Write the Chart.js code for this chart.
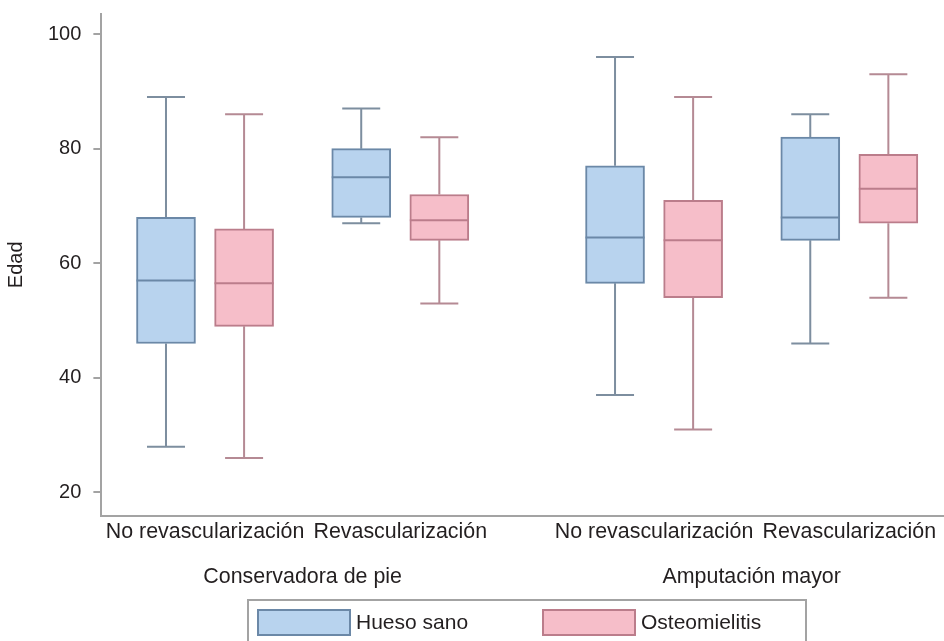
<!DOCTYPE html>
<html>
<head>
<meta charset="utf-8">
<script src="https://cdn.jsdelivr.net/npm/chart.js@4/dist/chart.umd.min.js"></script>
<style>
  html, body { margin: 0; padding: 0; background: #fff; }
  #wrap { width: 944px; height: 641px; }
</style>
</head>
<body>
<div id="wrap"><canvas id="boxChart" width="944" height="641"></canvas></div>
<script>
// categories and groups
var categories = ["No revascularización", "Revascularización", "No revascularización", "Revascularización"];
var groups = ["Conservadora de pie", "Amputación mayor"];
var seriesNames = ["Hueso sano", "Osteomielitis"];
var yTicks = [20, 40, 60, 80, 100];

// Hueso sano (min, q1, median, q3, max)
var sanoMin = [28, 67, 37, 46];
var sanoQ1 = [46, 68, 56.5, 64];
var sanoMedian = [57, 75, 64.5, 68];
var sanoQ3 = [68, 80, 77, 82];
var sanoMax = [89, 87, 96, 86];

// Osteomielitis
var osteoMin = [26, 53, 31, 54];
var osteoQ1 = [49, 64, 54, 67];
var osteoMedian = [56.5, 67.5, 64, 73];
var osteoQ3 = [66, 72, 71, 79];
var osteoMax = [86, 82, 89, 93];

var font = "'Liberation Sans', Arial, sans-serif";
var axisGray = "#a3a3a3";
var textColor = "#231f20";

// slot on the x axis for each category (a wider gap between the two groups)
function slot(i) {
    return 1 + i + (i >= 2 ? 0.3 : 0);
}
var offset = 0.2;
var xMin = 0.469, xMax = 4.785;

var boxes = [
    { min: sanoMin, q1: sanoQ1, med: sanoMedian, q3: sanoQ3, max: sanoMax, dx: -offset,
      fill: "#b8d3ee", line: "#6b88a7", whisker: "#7d8e9f" },
    { min: osteoMin, q1: osteoQ1, med: osteoMedian, q3: osteoQ3, max: osteoMax, dx: offset,
      fill: "#f6bec9", line: "#bb7d8b", whisker: "#b58a94" }
];

var datasets = boxes.map(function (b, d) {
    return {
        label: seriesNames[d],
        data: categories.map(function (c, i) {
            return { x: slot(i) + b.dx, y: [b.q1[i], b.q3[i]] };
        }),
        backgroundColor: b.fill,
        borderColor: b.line,
        borderWidth: 2,
        borderSkipped: false,
        barThickness: 59,
        grouped: false
    };
});

// whiskers behind the boxes, medians on top
var boxPlotLines = {
    id: "boxPlotLines",
    beforeDatasetsDraw: function (chart) {
        var ctx = chart.ctx, xs = chart.scales.x, ys = chart.scales.y;
        ctx.save();
        ctx.lineWidth = 2;
        boxes.forEach(function (b) {
            ctx.strokeStyle = b.whisker;
            categories.forEach(function (c, i) {
                var x = xs.getPixelForValue(slot(i) + b.dx);
                var half = 19;
                ctx.beginPath();
                ctx.moveTo(x, ys.getPixelForValue(b.max[i]));
                ctx.lineTo(x, ys.getPixelForValue(b.q3[i]));
                ctx.moveTo(x, ys.getPixelForValue(b.q1[i]));
                ctx.lineTo(x, ys.getPixelForValue(b.min[i]));
                ctx.moveTo(x - half, ys.getPixelForValue(b.max[i]));
                ctx.lineTo(x + half, ys.getPixelForValue(b.max[i]));
                ctx.moveTo(x - half, ys.getPixelForValue(b.min[i]));
                ctx.lineTo(x + half, ys.getPixelForValue(b.min[i]));
                ctx.stroke();
            });
        });
        ctx.restore();
    },
    afterDatasetsDraw: function (chart) {
        var ctx = chart.ctx, xs = chart.scales.x, ys = chart.scales.y;
        ctx.save();
        ctx.lineWidth = 2;
        boxes.forEach(function (b) {
            ctx.strokeStyle = b.line;
            categories.forEach(function (c, i) {
                var x = xs.getPixelForValue(slot(i) + b.dx);
                var y = ys.getPixelForValue(b.med[i]);
                ctx.beginPath();
                ctx.moveTo(x - 29.5, y);
                ctx.lineTo(x + 29.5, y);
                ctx.stroke();
            });
        });
        ctx.restore();
    }
};

// framed legend under the axis titles
var framedLegend = {
    id: "framedLegend",
    afterDraw: function (chart) {
        var ctx = chart.ctx;
        var area = chart.chartArea;
        var left = Math.round((area.left + area.right) / 2) - 275;
        var top = chart.height - 41;
        ctx.save();
        ctx.strokeStyle = axisGray;
        ctx.lineWidth = 2;
        ctx.strokeRect(left, top, 558, 60);
        ctx.font = "21px " + font;
        ctx.textBaseline = "middle";
        ctx.fillStyle = textColor;
        boxes.forEach(function (b, d) {
            var sx = left + 10 + d * 285;
            ctx.fillStyle = b.fill;
            ctx.fillRect(sx, top + 10, 92, 25);
            ctx.strokeStyle = b.line;
            ctx.strokeRect(sx, top + 10, 92, 25);
            ctx.fillStyle = textColor;
            ctx.fillText(seriesNames[d], sx + 98, top + 23);
        });
        ctx.restore();
    }
};

var ctx = document.getElementById("boxChart").getContext("2d");
var boxChart = new Chart(ctx, {
    type: "bar",
    data: { datasets: datasets },
    plugins: [boxPlotLines, framedLegend],
    options: {
        responsive: false,
        animation: false,
        layout: { padding: { top: 10, right: 0, bottom: 36, left: 0 } },
        plugins: {
            legend: { display: false },
            tooltip: { enabled: false }
        },
        scales: {
            x: {
                type: "linear",
                offset: false,
                min: xMin,
                max: xMax,
                afterBuildTicks: function (scale) {
                    scale.ticks = categories.map(function (c, i) { return { value: slot(i) }; });
                },
                ticks: {
                    callback: function (v, i) { return categories[i]; },
                    font: { size: 21.4, family: font },
                    color: textColor,
                    padding: 4,
                    maxRotation: 0,
                    autoSkip: false
                },
                grid: { display: false, drawTicks: false, tickLength: 0 },
                border: { display: true, color: axisGray, width: 2 }
            },
            x2: {
                type: "linear",
                position: "bottom",
                offset: false,
                min: xMin,
                max: xMax,
                afterBuildTicks: function (scale) {
                    scale.ticks = groups.map(function (g, k) {
                        return { value: (slot(2 * k) + slot(2 * k + 1)) / 2 };
                    });
                },
                ticks: {
                    callback: function (v, i) { return groups[i]; },
                    font: { size: 21.4, family: font },
                    color: textColor,
                    padding: 15,
                    maxRotation: 0,
                    autoSkip: false
                },
                grid: { display: false, drawTicks: false, tickLength: 0 },
                border: { display: false }
            },
            y: {
                min: 15.96,
                max: 103.5,
                afterBuildTicks: function (scale) {
                    scale.ticks = yTicks.map(function (v) { return { value: v }; });
                },
                ticks: {
                    font: { size: 20, family: font, lineHeight: 0.2 },
                    color: textColor,
                    padding: 12
                },
                grid: { drawOnChartArea: false, drawTicks: true, tickLength: 8, color: axisGray, lineWidth: 2 },
                border: { display: true, color: axisGray, width: 2 },
                title: {
                    display: true,
                    text: "Edad",
                    font: { size: 20, family: font },
                    color: textColor,
                    padding: { top: 4, bottom: 8 }
                }
            }
        }
    }
});
</script>
</body>
</html>
